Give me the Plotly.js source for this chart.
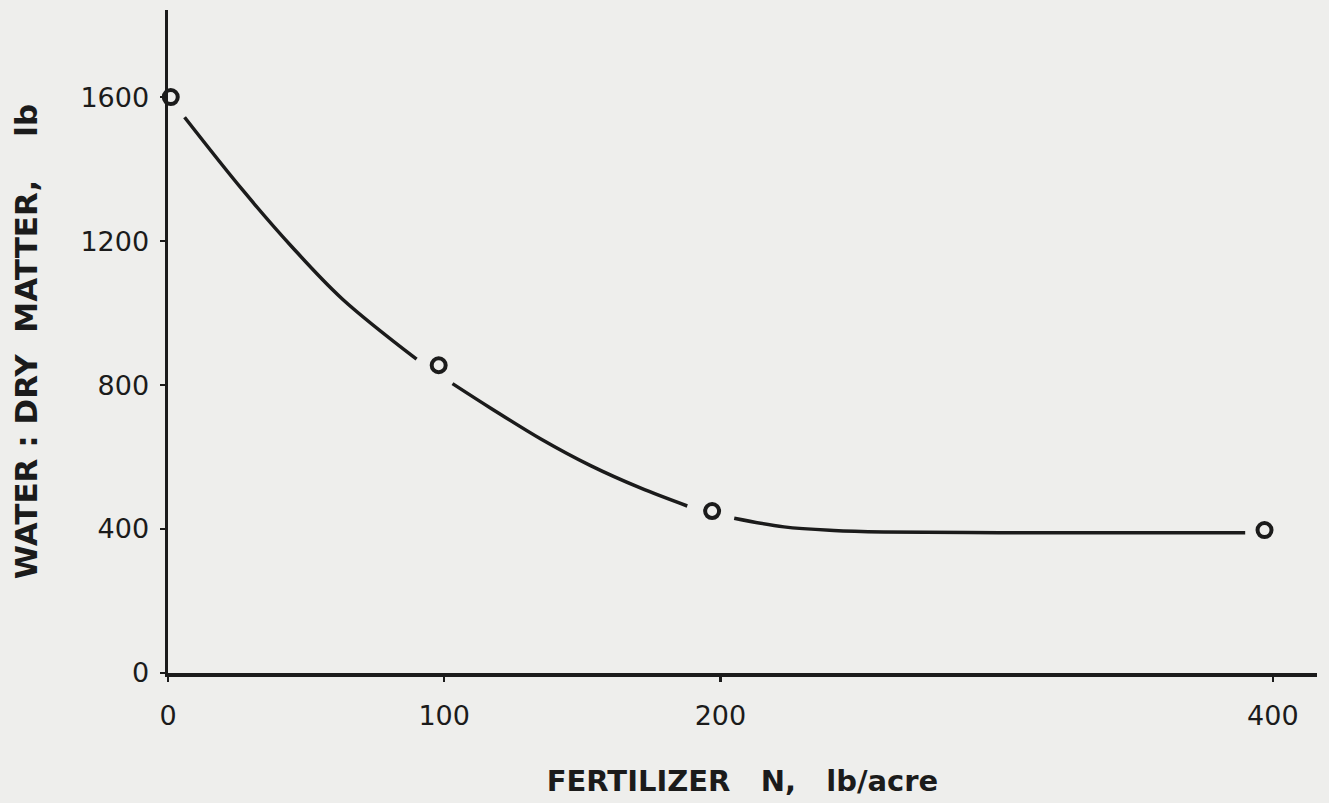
<!DOCTYPE html>
<html>
<head>
<meta charset="utf-8">
<script src="https://cdn.plot.ly/plotly-3.0.1.min.js"></script>
<style>
  html, body { margin: 0; padding: 0; background: #eeeeec; }
  #chart { width: 1329px; height: 803px; }
</style>
</head>
<body>
<div id="chart"></div>
<script>
// Observed data points (fertilizer N, lb/acre vs water : dry matter ratio)
const fertN = [1, 98, 197, 397];
const waterRatio = [1600, 855, 450, 397];

// Hand-drawn fitted curve (nulls = gaps around the markers)
const curveN = [6, 27, 45, 63, 90, null, 103, 117, 135, 153, 171, 188, null, 205, 223, 241, 259, 301, 350, 390];
const curveRatio = [1544, 1342, 1183, 1040, 872, null, 804, 735, 650, 576, 514, 464, null, 430, 406, 396, 392, 390, 390, 390];

// Axis ticks
const xTicks = [0, 100, 200, 400];
const xTickText = ['0', '100', '200', '400'];
const yTicks = [0, 400, 800, 1200, 1600];
const yTickText = ['0', '400', '800', '1200', '1600'];

const ink = '#1b1b1b';

const traces = [
  {
    x: curveN, y: curveRatio,
    type: 'scatter', mode: 'lines',
    line: { color: ink, width: 3.5, shape: 'spline', smoothing: 1 },
    connectgaps: false,
    hoverinfo: 'skip',
    showlegend: false
  },
  {
    x: fertN, y: waterRatio,
    type: 'scatter', mode: 'markers',
    marker: { symbol: 'circle-open', size: 14, color: ink, line: { color: ink, width: 4 } },
    cliponaxis: false,
    showlegend: false
  }
];

const layout = {
  width: 1329, height: 803,
  paper_bgcolor: '#eeeeec',
  plot_bgcolor: '#eeeeec',
  margin: { l: 168, r: 12, t: 10, b: 130 },
  font: { family: 'DejaVu Sans', color: ink, size: 27 },
  showlegend: false,
  xaxis: {
    range: [0, 416],
    tickmode: 'array', tickvals: xTicks, ticktext: xTickText,
    showgrid: false, zeroline: false,
    showline: true, linecolor: ink, linewidth: 3.5,
    ticks: 'outside', ticklen: 5, tickwidth: 2.5, tickcolor: ink,
    ticklabelstandoff: 11,
    tickfont: { family: 'DejaVu Sans', size: 27, color: ink },
    title: {
      text: 'FERTILIZER\u00a0\u00a0\u00a0N,\u00a0\u00a0\u00a0lb/acre\u00a0\u00a0',
      font: { family: 'DejaVu Sans', size: 29, color: ink, weight: 'bold' },
      standoff: 42
    },
    automargin: false,
    fixedrange: true
  },
  yaxis: {
    range: [0, 1842],
    tickmode: 'array', tickvals: yTicks, ticktext: yTickText,
    showgrid: false, zeroline: false,
    showline: true, linecolor: ink, linewidth: 3.5,
    ticks: 'outside', ticklen: 5, tickwidth: 2.5, tickcolor: ink,
    ticklabelstandoff: 5,
    tickfont: { family: 'DejaVu Sans', size: 27, color: ink },
    title: {
      text: '\u00a0WATER\u00a0:\u00a0DRY\u00a0\u00a0MATTER,\u00a0\u00a0\u00a0\u00a0lb',
      font: { family: 'DejaVu Sans', size: 31, color: ink, weight: 'bold' },
      standoff: 34
    },
    automargin: false,
    fixedrange: true
  }
};

Plotly.newPlot('chart', traces, layout, { displayModeBar: false, staticPlot: true });
</script>
</body>
</html>
